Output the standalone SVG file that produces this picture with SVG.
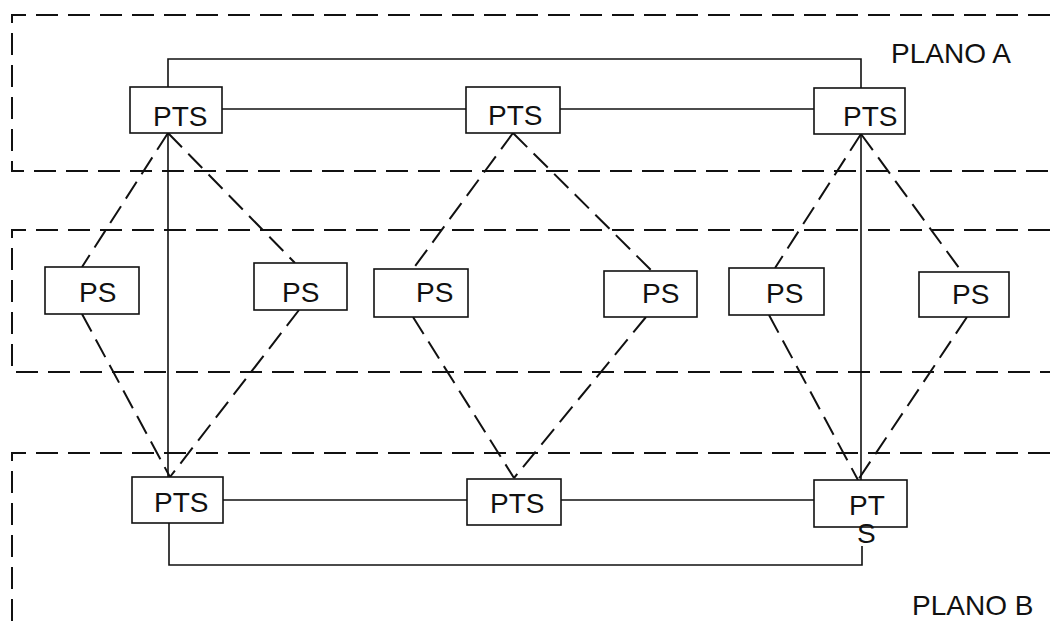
<svg xmlns="http://www.w3.org/2000/svg" width="1050" height="626" viewBox="0 0 1050 626">
<style>
.bnd{fill:none;stroke:#111;stroke-width:2;stroke-dasharray:22 10}
.box{fill:#fff;stroke:#111;stroke-width:1.6}
.sol{fill:none;stroke:#111;stroke-width:1.6}
.dsh{fill:none;stroke:#111;stroke-width:2;stroke-dasharray:20 9}
.t{font-family:"Liberation Sans",Arial,sans-serif;font-size:28px;fill:#111}
</style>
<rect width="1050" height="626" fill="#fff"/>
<g id="planes">
<polyline class="bnd" points="1050,15 12,15 12,171 1050,171"/>
<polyline class="bnd" points="1050,230 12,230 12,372 1050,372"/>
<polyline class="bnd" points="1050,453 12,453 12,626"/>
<text class="t" x="891" y="63">PLANO A</text>
<text class="t" x="912" y="615">PLANO B</text>
</g>
<g id="connectors">
<polyline class="sol" points="168,87 168,59 861,59 861,88"/>
<line class="sol" x1="222" y1="109" x2="466" y2="109"/>
<line class="sol" x1="560" y1="109" x2="814" y2="109"/>
<line class="sol" x1="168" y1="133" x2="168" y2="477"/>
<line class="sol" x1="861" y1="134" x2="861" y2="480"/>
<line class="sol" x1="223" y1="500" x2="467" y2="500"/>
<line class="sol" x1="561" y1="500" x2="814" y2="500"/>
<polyline class="sol" points="169,523 169,565 862,565 862,546"/>
<line class="dsh" x1="168" y1="133" x2="82" y2="267"/>
<line class="dsh" x1="168" y1="133" x2="295" y2="263"/>
<line class="dsh" x1="82" y1="314" x2="170" y2="477"/>
<line class="dsh" x1="299" y1="310" x2="170" y2="477"/>
<line class="dsh" x1="513" y1="133" x2="413" y2="269"/>
<line class="dsh" x1="513" y1="133" x2="652" y2="271"/>
<line class="dsh" x1="413" y1="317" x2="514" y2="478"/>
<line class="dsh" x1="646" y1="317" x2="514" y2="478"/>
<line class="dsh" x1="861" y1="134" x2="775" y2="268"/>
<line class="dsh" x1="861" y1="134" x2="962" y2="272"/>
<line class="dsh" x1="769" y1="315" x2="858" y2="480"/>
<line class="dsh" x1="967" y1="317" x2="858" y2="480"/>
</g>
<g id="pts-a1"><rect class="box" x="130" y="87" width="92" height="46"/><text class="t" x="153" y="126">PTS</text></g>
<g id="pts-a2"><rect class="box" x="466" y="87" width="94" height="46"/><text class="t" x="488" y="125">PTS</text></g>
<g id="pts-a3"><rect class="box" x="814" y="88" width="91" height="46"/><text class="t" x="843" y="126">PTS</text></g>
<g id="ps1"><rect class="box" x="45" y="267" width="94" height="47"/><text class="t" x="79" y="302">PS</text></g>
<g id="ps2"><rect class="box" x="254" y="263" width="93" height="47"/><text class="t" x="282" y="302">PS</text></g>
<g id="ps3"><rect class="box" x="374" y="269" width="94" height="48"/><text class="t" x="416" y="302">PS</text></g>
<g id="ps4"><rect class="box" x="604" y="271" width="93" height="46"/><text class="t" x="642" y="303">PS</text></g>
<g id="ps5"><rect class="box" x="729" y="268" width="95" height="47"/><text class="t" x="766" y="303">PS</text></g>
<g id="ps6"><rect class="box" x="919" y="272" width="90" height="45"/><text class="t" x="952" y="304">PS</text></g>
<g id="pts-b1"><rect class="box" x="132" y="477" width="91" height="46"/><text class="t" x="154" y="512">PTS</text></g>
<g id="pts-b2"><rect class="box" x="467" y="479" width="94" height="46"/><text class="t" x="490" y="513">PTS</text></g>
<g id="pts-b3"><rect class="box" x="814" y="480" width="93" height="47"/><text class="t" x="849" y="515">PT</text><text class="t" x="857" y="543">S</text></g>
</svg>
